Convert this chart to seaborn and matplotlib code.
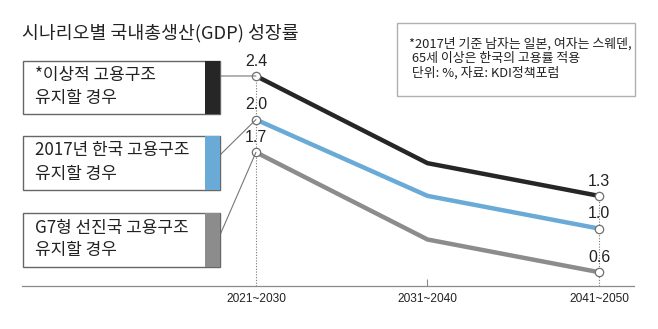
import numpy as np
import pandas as pd
import matplotlib
matplotlib.use("Agg")
import matplotlib.pyplot as plt
import seaborn as sns
from matplotlib.patches import Rectangle, ConnectionPatch
from matplotlib.transforms import Affine2D

# ---------------- data ----------------
periods = ["2021~2030", "2031~2040", "2041~2050"]
ideal = [2.4, 1.6, 1.3]
korea2017 = [2.0, 1.3, 1.0]
g7 = [1.7, 0.9, 0.6]
scenarios = ["ideal", "korea2017", "g7"]
scenario_labels = [
    ["*이상적 고용구조", "유지할 경우"],
    ["2017년 한국 고용구조", "유지할 경우"],
    ["G7형 선진국 고용구조", "유지할 경우"],
]
title = "시나리오별 국내총생산(GDP) 성장률"
note_lines = [
    "*2017년 기준 남자는 일본, 여자는 스웨덴,",
    " 65세 이상은 한국의 고용률 적용",
    " 단위: %, 자료: KDI정책포럼",
]

colors = {"ideal": "#262626", "korea2017": "#6aaad6", "g7": "#8c8c8c"}

# ---------------- setup ----------------
sns.set_theme(style="white")
plt.rcParams["font.family"] = ["Noto Sans CJK KR", "DejaVu Sans"]
NARROW = ["Liberation Sans", "DejaVu Sans"]
TXT = "#222222"

W, H = 658, 329
fig = plt.figure(figsize=(W / 100, H / 100), dpi=100)
fig.patch.set_facecolor("white")
pix = Affine2D().scale(1 / W, -1 / H).translate(0, 1) + fig.transFigure

base_px = 285.7
ax = fig.add_axes([22 / W, 1 - base_px / H, (634 - 22) / W, base_px / H])
ax.set_facecolor("none")

df = pd.DataFrame({
    "period": periods * 3,
    "pos": list(range(len(periods))) * 3,
    "scenario": [s for s in scenarios for _ in periods],
    "value": ideal + korea2017 + g7,
})

sns.lineplot(data=df, x="pos", y="value", hue="scenario", palette=colors,
             linewidth=3.2, legend=False, ax=ax, zorder=3)

ax.set_xlim(-1.364, 2.204)
ax.set_ylim(0.476, 3.097)
ymin = ax.get_ylim()[0]

# dotted guides at first and last period
first, last = 0, len(periods) - 1
ax.vlines(first, ymin, df[df.pos == first].value.max(), colors="#777777",
          linestyles=(0, (1, 1.5)), linewidth=0.8, zorder=1)
ax.vlines(last, ymin, df[df.pos == last].value.max(), colors="#777777",
          linestyles=(0, (1, 1.5)), linewidth=0.8, zorder=1)

ends = df[df.pos.isin([first, last])]
sns.scatterplot(data=ends, x="pos", y="value", color="white",
                edgecolor="#6f6f6f", linewidth=0.9, s=36, ax=ax,
                zorder=5, legend=False)
for _, r in ends.iterrows():
    ax.annotate(f"{r.value:.1f}", (r.pos, r.value), xytext=(0, 10.5),
                textcoords="offset points", ha="center", va="center",
                fontsize=11.5, family=NARROW, color=TXT, zorder=6)

# axes styling
for side in ["top", "right", "left"]:
    ax.spines[side].set_visible(False)
ax.spines["bottom"].set_color("#8a8a8a")
ax.spines["bottom"].set_linewidth(0.9)
ax.set_xticks(range(len(periods)), periods)
ax.set_yticks([])
ax.set_xlabel("")
ax.set_ylabel("")
ax.tick_params(axis="x", direction="in", length=5, width=0.8, color="#8a8a8a",
               pad=5, labelsize=8.6, labelcolor=TXT, bottom=True)
for lab in ax.get_xticklabels():
    lab.set_fontfamily(NARROW)
ticks = ax.xaxis.get_major_ticks()
ticks[first].tick1line.set_visible(False)
ticks[last].tick1line.set_visible(False)

# title
fig.text(22, 33, title, transform=pix, fontsize=13.2, color=TXT,
         ha="left", va="center")

# legend boxes
box_tops = [60.7, 136, 213]
box_h = 53.5
box_l, box_r = 22.7, 220
bar_w = 15
anchors = [76, 155, 235]
for i, s in enumerate(scenarios):
    top = box_tops[i]
    fig.patches.append(Rectangle((box_l, top), box_r - box_l, box_h,
                                 transform=pix, facecolor="white",
                                 edgecolor="#666666", linewidth=1.0, zorder=2))
    fig.patches.append(Rectangle((box_r - bar_w, top), bar_w, box_h,
                                 transform=pix, facecolor=colors[s],
                                 edgecolor="none", zorder=3))
    fig.text(35, top + 14.5, scenario_labels[i][0], transform=pix,
             fontsize=12.2, color=TXT, ha="left", va="center")
    fig.text(35, top + 37.5, scenario_labels[i][1], transform=pix,
             fontsize=12.2, color=TXT, ha="left", va="center")
    yv = df[(df.scenario == s) & (df.pos == first)].value.iloc[0]
    con = ConnectionPatch(xyA=(box_r, anchors[i]), coordsA=pix,
                          xyB=(first, yv), coordsB=ax.transData,
                          color="#777777", linewidth=0.8, zorder=1)
    fig.add_artist(con)

# note box
fig.patches.append(Rectangle((396.7, 22.7), 635 - 396.7, 96 - 22.7,
                             transform=pix, facecolor="white",
                             edgecolor="#b0b0b0", linewidth=1.0))
for ypos, line in zip([44, 58.5, 72.5], note_lines):
    fig.text(409, ypos, line, transform=pix, fontsize=9.3, color=TXT,
             ha="left", va="center")

fig.savefig("out.png", dpi=100, facecolor="white")
